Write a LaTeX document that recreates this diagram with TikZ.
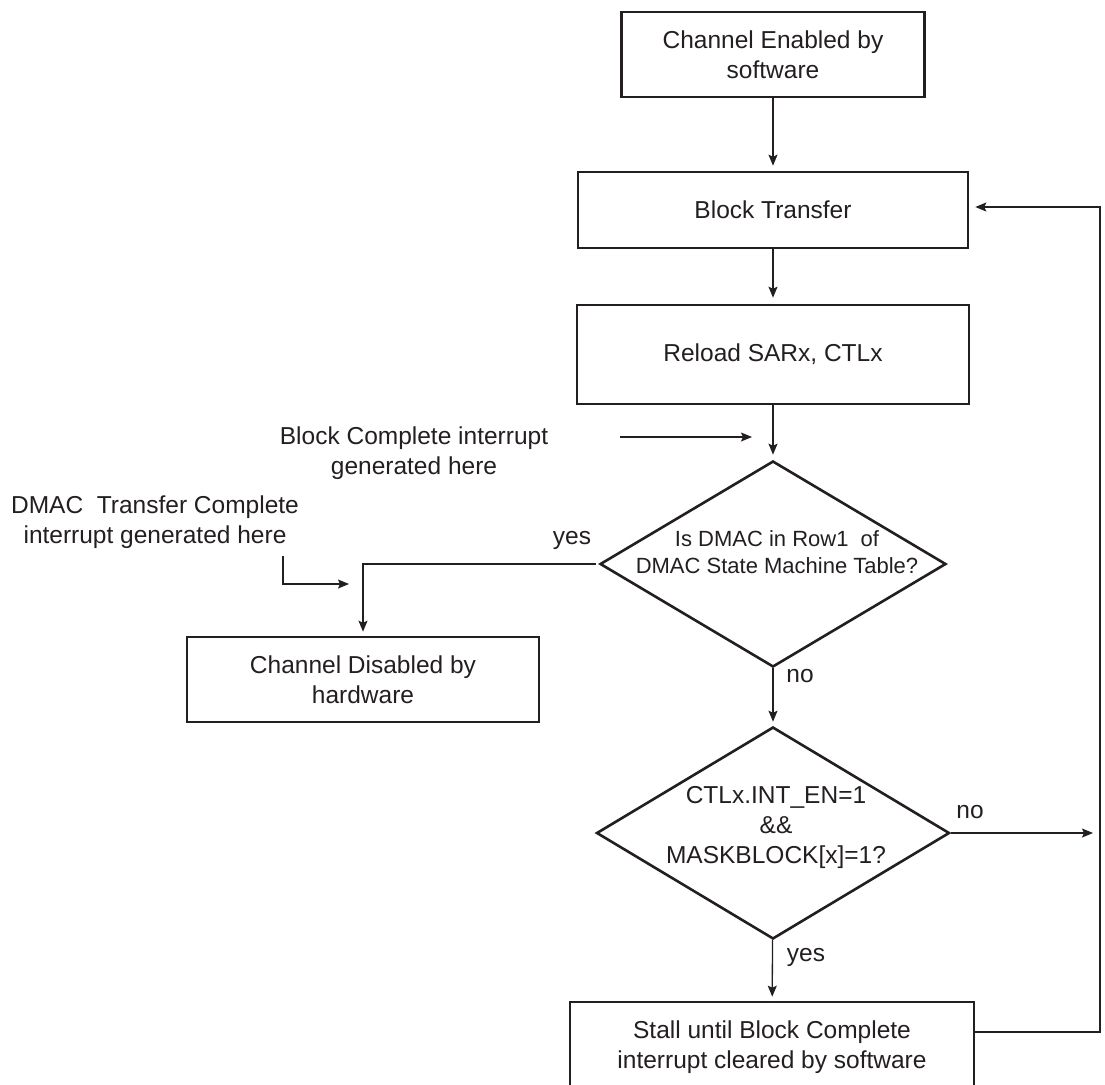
\documentclass[tikz,border=0pt]{standalone}
\usepackage{fontspec}
\setmainfont{Liberation Sans}
\usetikzlibrary{shapes.geometric,arrows.meta}
\definecolor{ink}{HTML}{231F20}
\begin{document}
\begin{tikzpicture}[x=1pt,y=-1pt,
  every node/.style={text=ink, font=\fontsize{24.5}{30}\selectfont},
  box/.style={draw=ink, line width=2.6pt, inner sep=0pt, align=center},
  dia/.style={draw=ink, line width=2.6pt, diamond, inner sep=0pt},
  conn/.style={draw=ink, line width=1.3pt},
  arr/.style={conn, -{Stealth[length=11pt,width=9pt,inset=2pt]}},
  lbl/.style={align=center}]
\useasboundingbox (0,0) rectangle (1105,1084);
\clip (0,0) rectangle (1105,1084);

\node[box, minimum width=303pt, minimum height=85pt] (b1) at (773,54.5) {Channel Enabled by\\software};
\node[box, minimum width=390pt, minimum height=76pt] (b2) at (773,210) {Block Transfer};
\node[box, minimum width=392pt, minimum height=99pt] (b3) at (773,354.5) {Reload SARx, CTLx};
\node[dia, minimum width=346pt, minimum height=206pt] (d1) at (773,564) {};
\node[lbl, font=\fontsize{22}{27}\selectfont] (d1t) at (777,552) {Is DMAC in Row1~ of\\DMAC State Machine Table?};
\node[dia, minimum width=353pt, minimum height=212pt] (d2) at (773,833) {};
\node[lbl] (d2t) at (776,827) {CTLx.INT\_EN=1\\\&\&\\MASKBLOCK[x]=1?};
\node[box, minimum width=352pt, minimum height=85pt] (b4) at (363,679.5) {Channel Disabled by\\hardware};
\node[box, minimum width=404pt, minimum height=90pt] (b5) at (772,1047) {Stall until Block Complete\\interrupt cleared by software};
\node[lbl] (t1) at (414,453) {Block Complete interrupt\\generated here};
\node[lbl] (t2) at (155,522) {DMAC~ Transfer Complete\\interrupt generated here};
\node (yes1) at (572,540) {yes};
\node (no1) at (800,676) {no};
\node (no2) at (970,812) {no};
\node (yes2) at (806,957) {yes};

\draw[arr, shorten >=5pt] (b1) -- (b2);
\draw[arr, shorten >=6pt] (b2) -- (b3);
\draw[arr, shorten >=5pt] (b3) -- (d1);
\draw[arr, shorten >=4pt] (d1) -- (d2);
\draw[arr, shorten >=4pt] (d2) -- (b5);
\draw[arr, shorten <=3pt, shorten >=4pt] (d1.west) -| (b4.north);
\coordinate (noend) at (1093,831);
\draw[arr] (d2.east) -- (d2.east -| noend);
\coordinate (r1) at (1100,1032);
\coordinate (r2) at (1100,207);
\draw[arr, shorten >=6pt] (b5.east |- r1) -- (r1) -- (r2) -- (b2.east |- r2);
\coordinate (bcs) at (620,437);
\coordinate (bce) at (752,437);
\draw[arr] (bcs) -- (bce);
\coordinate (dms) at (283,556);
\coordinate (dme) at (349,584);
\draw[arr] (dms) |- (dme);
\end{tikzpicture}
\end{document}
